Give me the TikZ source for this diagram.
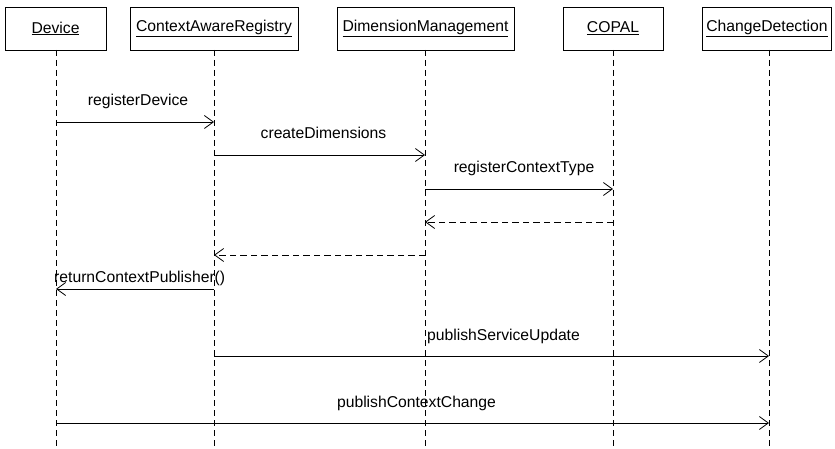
\documentclass[tikz,border=0pt]{standalone}
\usepackage{fontspec}
\setmainfont{Liberation Sans}
\usetikzlibrary{arrows.meta,calc}
\begin{document}
\begin{tikzpicture}[x=1pt,y=-1pt,
  font=\fontsize{15.7}{18}\selectfont,
  obj/.style={draw, line width=0.8pt, minimum height=43pt, inner sep=0pt},
  life/.style={line width=0.7pt, dash pattern=on 6pt off 4pt},
  msg/.style={line width=0.8pt, -{Straight Barb[length=9pt,width=13pt,line width=0.8pt]}},
  ret/.style={msg, dash pattern=on 6.5pt off 4pt},
  lbl/.style={inner sep=0pt, anchor=base}]
\useasboundingbox (0,0) rectangle (835,449);
\node[obj, minimum width=101pt] (dev) at (55.5,28.5) {\underline{Device}};
\node[obj, minimum width=168pt] (car) at (214,28.5) {\underline{ContextAwareRegistry}};
\node[obj, minimum width=177pt] (dm) at (425.5,28.5) {\underline{DimensionManagement}};
\node[obj, minimum width=100pt] (cop) at (613,28.5) {\underline{COPAL}};
\node[obj, minimum width=129pt] (cd) at (767,28.5) {\underline{ChangeDetection}};
\foreach \n/\x in {dev/56,car/214,dm/425,cop/613,cd/769}{
  \coordinate (\n-top) at (\x,50);
  \coordinate (\n-bot) at (\x,449);
  \draw[life] (\n-top) -- (\n-bot);
}
% registerDevice
\draw[msg] (dev-top |- 0,122) coordinate (m1a) -- (car-top |- 0,122) coordinate (m1b);
\node[lbl] (l1) at ($(m1a)!0.5!(m1b)+(3,-16)$) {registerDevice};
% createDimensions
\draw[msg] (car-top |- 0,155) coordinate (m2a) -- (dm-top |- 0,155) coordinate (m2b);
\node[lbl] (l2) at ($(m2a)!0.5!(m2b)+(4,-16)$) {createDimensions};
% registerContextType
\draw[msg] (dm-top |- 0,189) coordinate (m3a) -- (cop-top |- 0,189) coordinate (m3b);
\node[lbl] (l3) at ($(m3a)!0.5!(m3b)+(5,-16)$) {registerContextType};
% returns
\draw[ret] (cop-top |- 0,222) -- (dm-top |- 0,222);
\draw[ret] (dm-top |- 0,255) -- (car-top |- 0,255);
% returnContextPublisher
\draw[msg] (car-top |- 0,289) coordinate (m6a) -- (dev-top |- 0,289) coordinate (m6b);
\node[inner sep=0pt, anchor=base west] (l6) at ($(m6b)+(-2,-7)$) {returnContextPublisher()};
% publishServiceUpdate
\draw[msg] (car-top |- 0,356) coordinate (m7a) -- (cd-top |- 0,356) coordinate (m7b);
\node[lbl] (l7) at ($(m7a)!0.5!(m7b)+(12,-16)$) {publishServiceUpdate};
% publishContextChange
\draw[msg] (dev-top |- 0,423) coordinate (m8a) -- (cd-top |- 0,423) coordinate (m8b);
\node[lbl] (l8) at ($(m8a)!0.5!(m8b)+(4,-16)$) {publishContextChange};
\end{tikzpicture}
\end{document}
